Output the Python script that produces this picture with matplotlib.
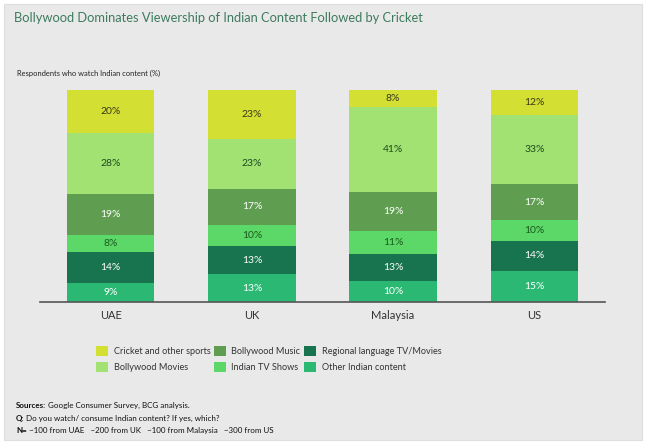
import numpy as np
import matplotlib.pyplot as plt
from matplotlib.patches import Rectangle

# data (percent of respondents)
countries = ['UAE', 'UK', 'Malaysia', 'US']
categories = ['Cricket and other sports', 'Bollywood Movies', 'Bollywood Music',
              'Indian TV Shows', 'Regional language TV/Movies', 'Other Indian content']
cricket = [20, 23, 8, 12]
movies = [28, 23, 41, 33]
music = [19, 17, 19, 17]
tv_shows = [8, 10, 11, 10]
regional = [14, 13, 13, 14]
other = [9, 13, 10, 15]

colors = ['#d4df33', '#a2e272', '#5f9e50', '#5cd868', '#17744f', '#2bb873']
text_colors = ['#3a3a1a', '#1f4a1f', 'white', '#1b5a1b', 'white', 'white']

plt.rcParams['font.family'] = ['Lato', 'DejaVu Sans']

fig = plt.figure(figsize=(6.47, 4.44), dpi=100)
fig.patch.set_facecolor('white')
fig.patches.append(Rectangle((4 / 647, 1 - 440 / 444), 638 / 647, 436 / 444,
                             transform=fig.transFigure, facecolor='#e9e9e9',
                             edgecolor='#dedede', lw=0.8, zorder=-10))

ax = fig.add_axes([40 / 647, 1 - 302 / 444, 565 / 647, 212 / 444])
ax.set_facecolor('none')

# segments from bottom to top
series = [other, regional, tv_shows, music, movies, cricket]
seg_colors = colors[::-1]
seg_text = text_colors[::-1]
totals = np.sum(series, axis=0)
x = np.arange(len(countries))
bottom = np.zeros(len(countries))
bars = {}
for vals, c, tc in zip(series, seg_colors, seg_text):
    h = np.array(vals) / totals * 100
    b = ax.bar(x, h, 0.62, bottom=bottom, color=c, edgecolor='none')
    bars[c] = b
    for xi, yi, hi, v in zip(x, bottom, h, vals):
        ax.text(xi, yi + hi / 2, f'{v}%', ha='center', va='center',
                fontsize=7.5, color=tc)
    bottom += h

ax.set_xlim(-0.5, 3.5)
ax.set_ylim(0, 100)
ax.set_yticks([])
ax.set_xticks(x)
ax.set_xticklabels(countries, fontsize=8, color='#333333')
ax.tick_params(axis='x', length=0, pad=6)
for s in ['top', 'right', 'left']:
    ax.spines[s].set_visible(False)
ax.spines['bottom'].set_color('#555555')
ax.spines['bottom'].set_linewidth(1.2)

fig.text(14 / 647, 1 - 18 / 444, 'Bollywood Dominates Viewership of Indian Content Followed by Cricket',
         fontsize=9.3, color='#3d7b5e', va='center', ha='left')
fig.text(17 / 647, 1 - 73 / 444, 'Respondents who watch Indian content (%)',
         fontsize=5.4, color='#222222', va='center', ha='left')

handles = [bars[c] for c in colors]
fig.legend(handles, categories, ncol=3, loc='center left',
           bbox_to_anchor=(88 / 647, 1 - 359 / 444), frameon=False,
           fontsize=6.6, handlelength=1.3, handleheight=1.3,
           columnspacing=0.4, handletextpad=0.6, labelspacing=0.6,
           labelcolor='#333333')

foot_y = [405, 418, 430]
bold_parts = ['Sources:', 'Q:', 'N=']
rest_parts = [' Google Consumer Survey, BCG analysis.',
              ' Do you watch/ consume Indian content? If yes, which?',
              ' ~100 from UAE   ~200 from UK   ~100 from Malaysia   ~300 from US']
for yy, bp, rp in zip(foot_y, bold_parts, rest_parts):
    t = fig.text(16 / 647, 1 - yy / 444, bp, fontsize=5.8, fontweight='bold',
                 color='#111111', va='center', ha='left')
    fig.canvas.draw()
    bb = t.get_window_extent()
    fig.text(bb.x1 / fig.bbox.width, 1 - yy / 444, rp, fontsize=5.8,
             color='#111111', va='center', ha='left')

fig.savefig('out.png', dpi=100, facecolor=fig.get_facecolor())
